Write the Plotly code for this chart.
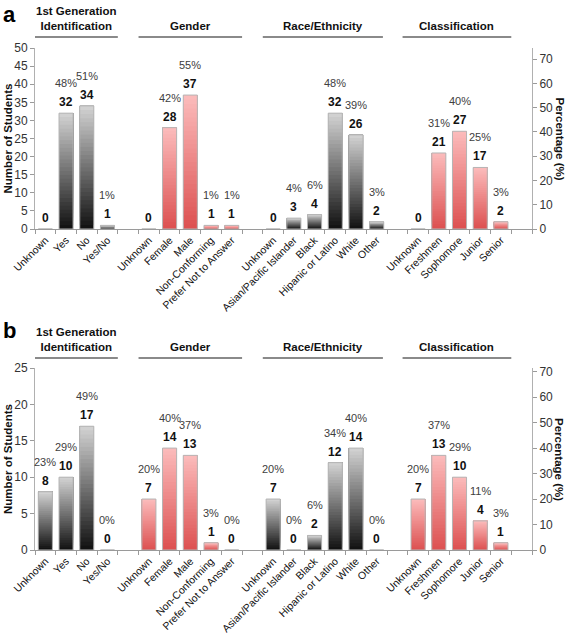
import plotly.graph_objects as go

# ---------------- data ----------------
group_titles = ["1st Generation<br>Identification", "Gender", "Race/Ethnicity", "Classification"]
cats_gen = ["Unknown", "Yes", "No", "Yes/No"]
cats_gender = ["Unknown", "Female", "Male", "Non-Conforming", "Prefer Not to Answer"]
cats_race = ["Unknown", "Asian/Pacific Islander", "Black", "Hipanic or Latino", "White", "Other"]
cats_class = ["Unknown", "Freshmen", "Sophomore", "Junior", "Senior"]

# panel a
a_gen = [0, 32, 34, 1]
a_gender = [0, 28, 37, 1, 1]
a_race = [0, 3, 4, 32, 26, 2]
a_class = [0, 21, 27, 17, 2]
a_gen_pct = [None, 48, 51, 1]
a_gender_pct = [None, 42, 55, 1, 1]
a_race_pct = [None, 4, 6, 48, 39, 3]
a_class_pct = [None, 31, 40, 25, 3]

# panel b
b_gen = [8, 10, 17, 0]
b_gender = [7, 14, 13, 1, 0]
b_race = [7, 0, 2, 12, 14, 0]
b_class = [7, 13, 10, 4, 1]
b_gen_pct = [23, 29, 49, 0]
b_gender_pct = [20, 40, 37, 3, 0]
b_race_pct = [20, 0, 6, 34, 40, 0]
b_class_pct = [20, 37, 29, 11, 3]

a_total = sum(a_gen)
b_total = sum(b_gen)
a_ymax = 50
b_ymax = 25

# ---------------- styling / layout helpers ----------------
FONT = "Liberation Sans, Arial, sans-serif"
GRAY = ("#101010", "#d4d4d4")     # bottom, top
RED = ("#dc5050", "#fcbcbc")
fam_colors = [GRAY, RED, GRAY, RED]
cat_groups = [cats_gen, cats_gender, cats_race, cats_class]

W, H = 567, 634
ML, MR = 35, 35


def px_x(px):   # page pixel -> paper x
    return (px - ML) / (W - ML - MR)


def px_y(py):   # page pixel -> paper y
    return (H - py) / H


# x positions: one empty slot between groups
positions = []
p = 0
for cats in cat_groups:
    positions.append(list(range(p, p + len(cats))))
    p += len(cats) + 1
n_slots = p - 1

tickvals = [x for grp in positions for x in grp]
ticktext = [c for cats in cat_groups for c in cats]


def hex2rgb(h):
    h = h.lstrip("#")
    return tuple(int(h[i:i + 2], 16) for i in (0, 2, 4))


def lerp(c1, c2, t):
    a, b = hex2rgb(c1), hex2rgb(c2)
    return "rgb(%d,%d,%d)" % tuple(round(a[i] + (b[i] - a[i]) * t) for i in range(3))


fig = go.Figure()
NSEG = 30
BW = 0.68

panels = [
    dict(vals=[a_gen, a_gender, a_race, a_class], pcts=[a_gen_pct, a_gender_pct, a_race_pct, a_class_pct],
         xa="x", ya="y", ya2="y2", total=a_total, ymax=a_ymax),
    dict(vals=[b_gen, b_gender, b_race, b_class], pcts=[b_gen_pct, b_gender_pct, b_race_pct, b_class_pct],
         xa="x2", ya="y3", ya2="y4", total=b_total, ymax=b_ymax),
]

annotations = []
for pn in panels:
    for fam in (0, 1):
        xs, vs = [], []
        for gi in range(4):
            if gi % 2 == fam:
                xs += positions[gi]
                vs += pn["vals"][gi]
        cb, ct = fam_colors[fam]
        # gradient: each layer runs from its start up to the bar top, later (lighter) layers cover the upper part
        for k in range(NSEG):
            col = lerp(cb, ct, (k + 0.5) / NSEG)
            fig.add_trace(go.Bar(x=xs, y=[v * (NSEG - k) / NSEG for v in vs], base=[v * k / NSEG for v in vs],
                                 width=BW, marker=dict(color=col, line=dict(width=0)),
                                 xaxis=pn["xa"], yaxis=pn["ya"], showlegend=False, hoverinfo="skip"))
        fig.add_trace(go.Bar(x=xs, y=vs, width=BW,
                             marker=dict(color="rgba(0,0,0,0)", line=dict(color="#b5b5b5", width=1)),
                             xaxis=pn["xa"], yaxis=pn["ya"], showlegend=False, hoverinfo="skip"))
    # invisible percent trace for secondary axis
    allx = [x for grp in positions for x in grp]
    allp = [q if q is not None else 0 for grp in pn["pcts"] for q in grp]
    fig.add_trace(go.Scatter(x=allx, y=allp, mode="markers", marker=dict(opacity=0),
                             xaxis=pn["xa"], yaxis=pn["ya2"], showlegend=False, hoverinfo="skip"))
    # labels
    for gi in range(4):
        for x, v, q in zip(positions[gi], pn["vals"][gi], pn["pcts"][gi]):
            annotations.append(dict(x=x, y=v, xref=pn["xa"], yref=pn["ya"], text="<b>%d</b>" % v,
                                    showarrow=False, yanchor="bottom", yshift=2,
                                    font=dict(family=FONT, size=12, color="#111")))
            if q is not None:
                annotations.append(dict(x=x, y=v, xref=pn["xa"], yref=pn["ya"], text="%d%%" % q,
                                        showarrow=False, yanchor="bottom", yshift=22,
                                        font=dict(family=FONT, size=11, color="#404040")))

top_dom = [px_y(229), px_y(48)]
bot_dom = [px_y(550), px_y(368)]

xaxis_common = dict(range=[-0.5, n_slots + 0.5], tickmode="array", tickvals=tickvals, ticktext=ticktext,
                    tickangle=-45, ticks="", showline=True, linecolor="#9a9a9a", linewidth=1,
                    showgrid=False, zeroline=False, automargin=False,
                    tickfont=dict(family=FONT, size=10.5, color="#111"),
                    minor=dict(tickmode="array", tickvals=[i - 0.5 for i in range(n_slots + 2)],
                               ticks="outside", ticklen=4, tickcolor="#9a9a9a", showgrid=False))
yaxis_common = dict(showline=True, linecolor="#b0b0b0", linewidth=1, ticks="outside", ticklen=4,
                    tickcolor="#9a9a9a", showgrid=False, zeroline=False, automargin=False,
                    tickfont=dict(family=FONT, size=12, color="#333"))

layout = dict(
    width=W, height=H, margin=dict(l=ML, r=MR, t=0, b=0),
    plot_bgcolor="white", paper_bgcolor="white", barmode="overlay",
    xaxis=dict(xaxis_common, domain=[0, 1], anchor="y"),
    xaxis2=dict(xaxis_common, domain=[0, 1], anchor="y3"),
    yaxis=dict(yaxis_common, domain=top_dom, range=[0, a_ymax], dtick=5, anchor="x"),
    yaxis2=dict(yaxis_common, overlaying="y", side="right", range=[0, a_ymax / a_total * 100], dtick=10,
                anchor="x"),
    yaxis3=dict(yaxis_common, domain=bot_dom, range=[0, b_ymax], dtick=5, anchor="x2"),
    yaxis4=dict(yaxis_common, overlaying="y3", side="right", range=[0, b_ymax / b_total * 100], dtick=10,
                anchor="x2"),
    showlegend=False,
)
fig.update_layout(**layout)

# group headers and lines
line_spans = [(-0.5, 3.5), (4.5, 9.5), (10.5, 16.3), (17.25, 22.5)]
shapes = []
for xa, line_px in (("x", 37), ("x2", 358)):
    yl = px_y(line_px)
    for gi, (x0, x1) in enumerate(line_spans):
        shapes.append(dict(type="line", xref=xa, yref="paper", x0=x0, x1=x1, y0=yl, y1=yl,
                           line=dict(color="#8a8a8a", width=2)))
        annotations.append(dict(x=(x0 + x1) / 2, y=yl, xref=xa, yref="paper", text="<b>%s</b>" % group_titles[gi],
                                showarrow=False, yanchor="bottom", yshift=3,
                                font=dict(family=FONT, size=11.5, color="#111")))

# axis titles and panel letters
for dom, letter, ly in ((top_dom, "a", 0), (bot_dom, "b", 316)):
    mid = (dom[0] + dom[1]) / 2
    annotations.append(dict(x=px_x(8), y=mid, xref="paper", yref="paper", text="<b>Number of Students</b>",
                            textangle=-90, showarrow=False, xanchor="center", yanchor="middle",
                            font=dict(family=FONT, size=11.5, color="#111")))
    annotations.append(dict(x=px_x(559), y=mid, xref="paper", yref="paper", text="<b>Percentage (%)</b>",
                            textangle=90, showarrow=False, xanchor="center", yanchor="middle",
                            font=dict(family=FONT, size=11.5, color="#111")))
    annotations.append(dict(x=px_x(1), y=px_y(ly), xref="paper", yref="paper",
                            text="<b>%s</b>" % letter, showarrow=False, xanchor="left", yanchor="top",
                            font=dict(family=FONT, size=22, color="#000")))

fig.update_layout(annotations=annotations, shapes=shapes)
fig.write_html("out.html", config={"displayModeBar": False},
               post_script="document.body.style.margin='0';document.documentElement.style.overflow='hidden';")
